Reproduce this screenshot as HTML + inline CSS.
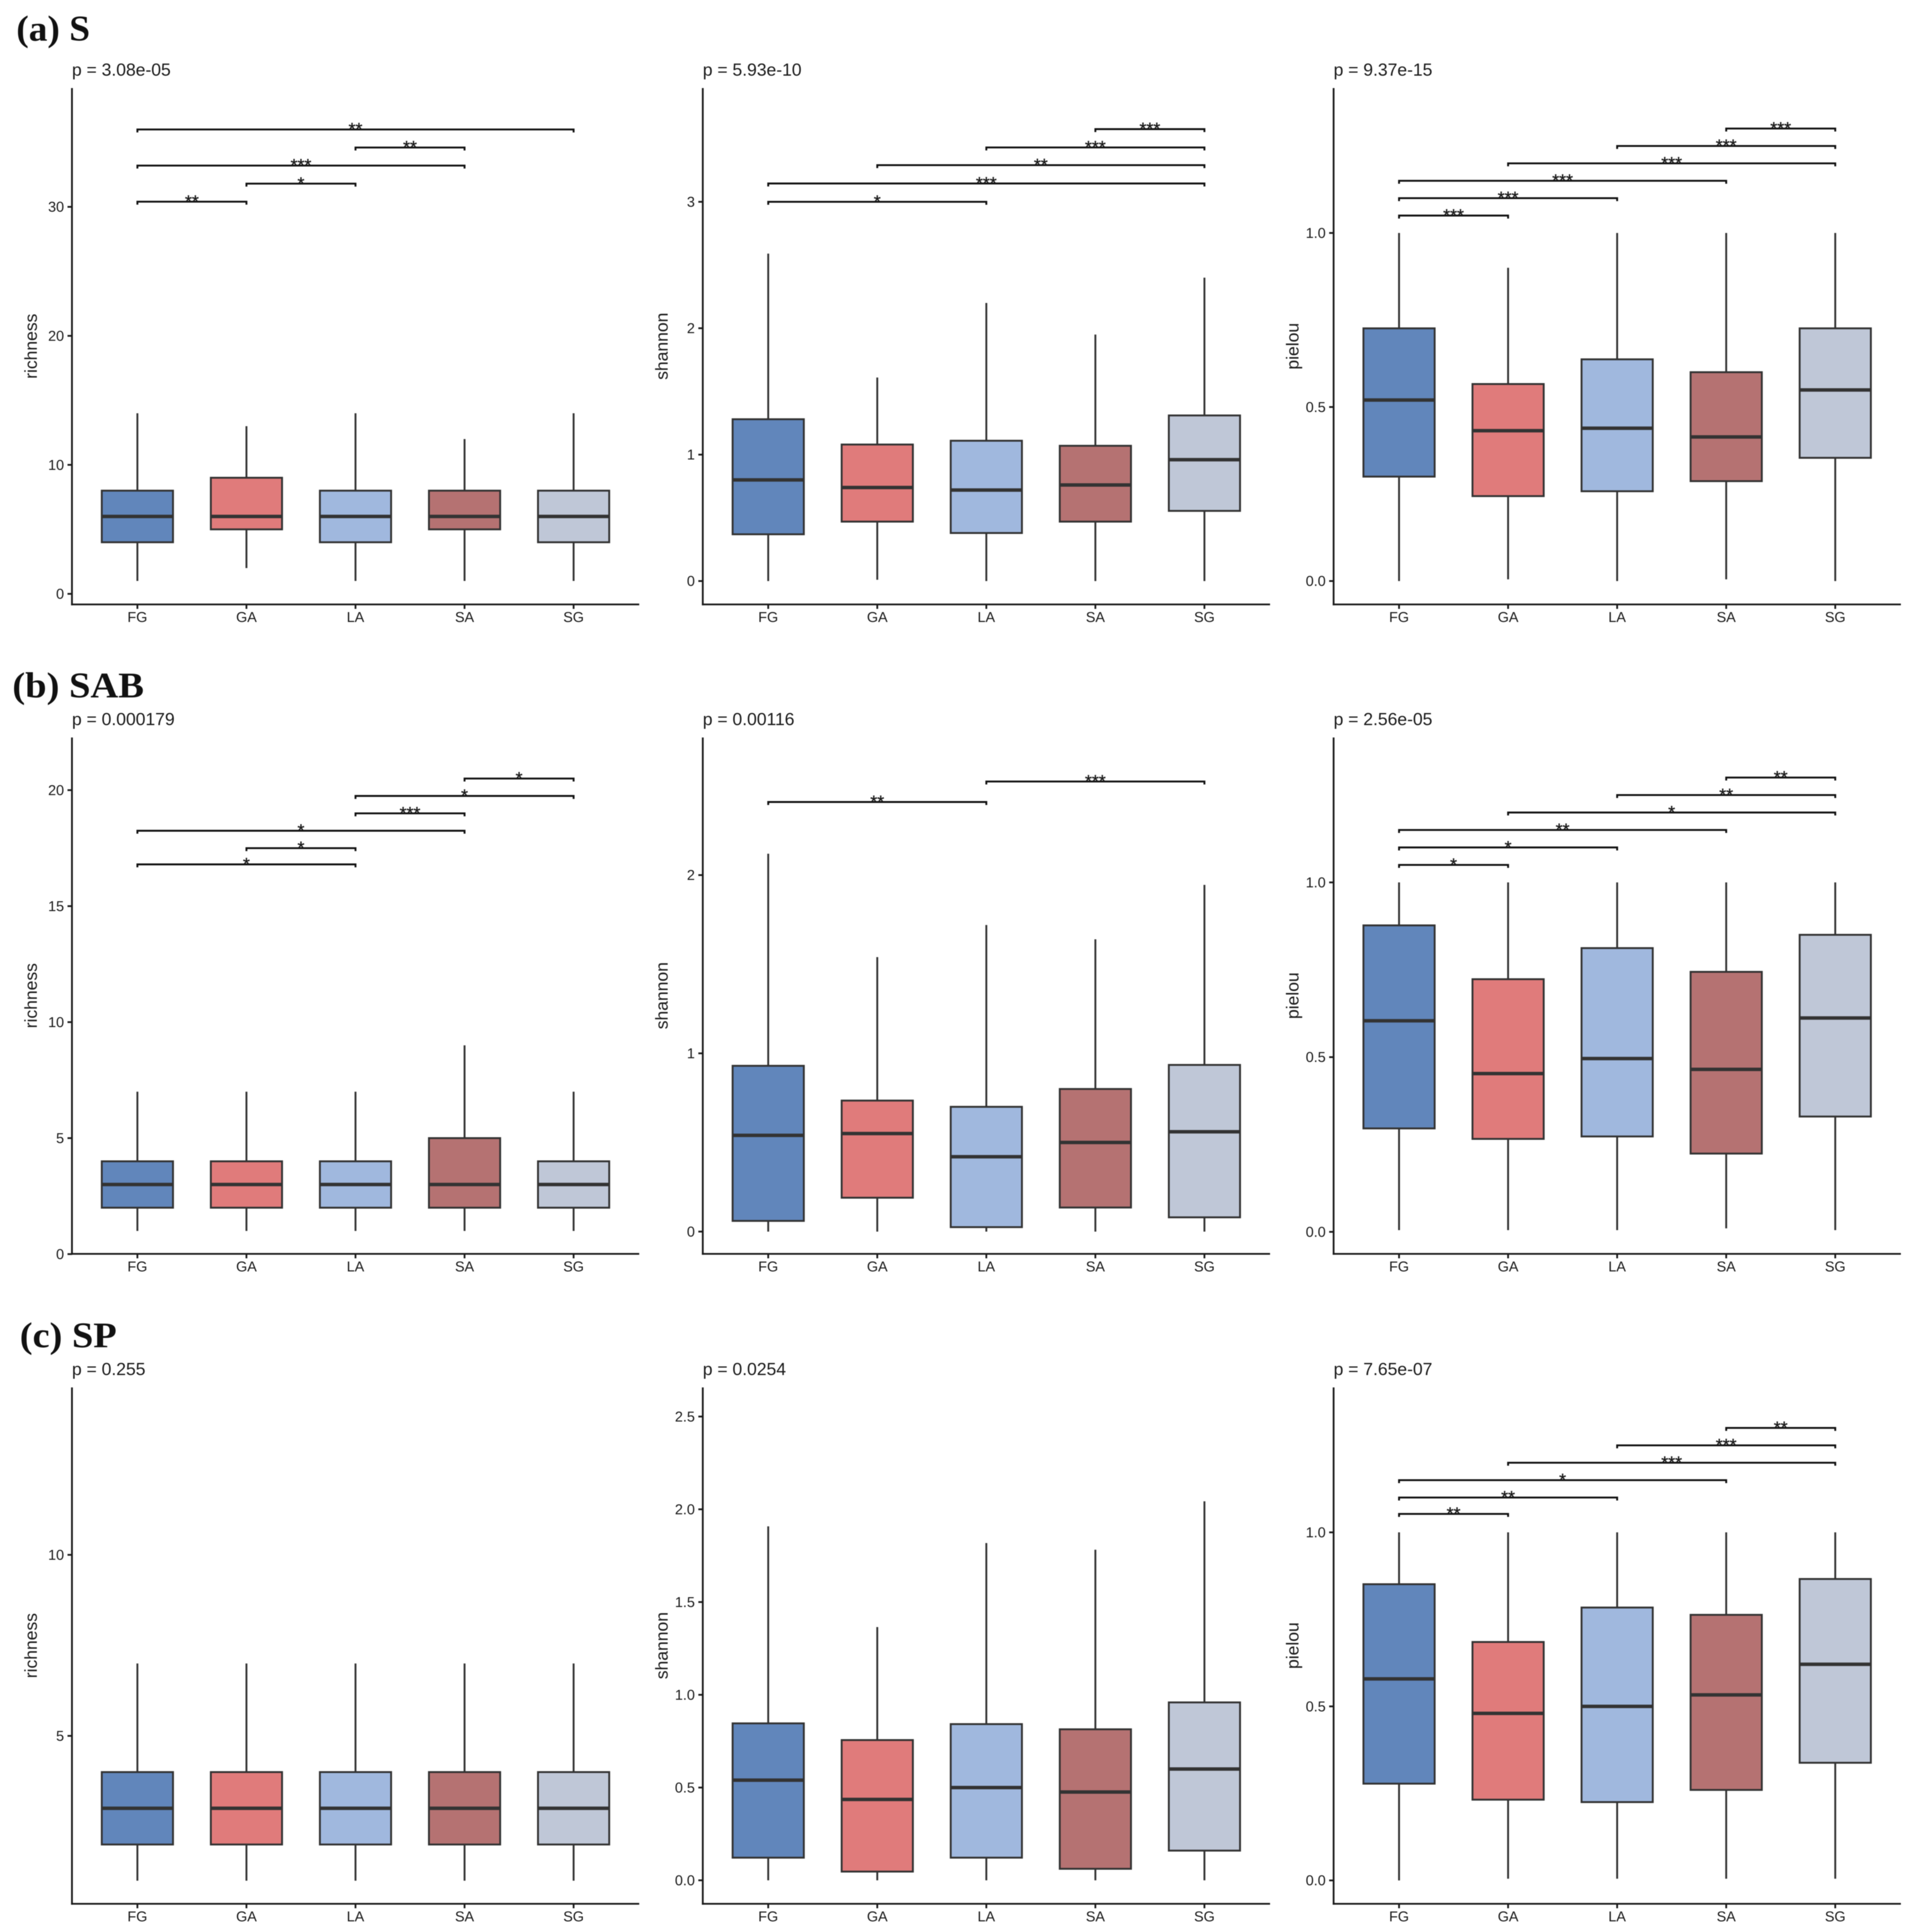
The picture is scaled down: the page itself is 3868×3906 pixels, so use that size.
<!DOCTYPE html>
<html lang="en">
<head>
<meta charset="utf-8">
<title>Alpha diversity boxplots</title>
<style>
html,body{margin:0;padding:0;background:#fff;width:3868px;height:3906px;overflow:hidden}
svg{display:block;filter:blur(0.7px)}
text{font-family:"Liberation Sans",sans-serif;fill:#1c1c1c}
.row-title{font-family:"Liberation Serif",serif;font-weight:bold;font-size:73px;fill:#111}
</style>
</head>
<body>
<svg id="figure" xmlns="http://www.w3.org/2000/svg" width="3868" height="3906" viewBox="0 0 3868 3906">
<rect x="0" y="0" width="3868" height="3906" fill="#ffffff"/>
<text class="row-title" x="33" y="82" textLength="149" lengthAdjust="spacingAndGlyphs">(a) S</text>
<text class="row-title" x="25" y="1410" textLength="266" lengthAdjust="spacingAndGlyphs">(b) SAB</text>
<text class="row-title" x="40" y="2724" textLength="196" lengthAdjust="spacingAndGlyphs">(c) SP</text>
</svg>
<script>
const categories = ['FG','GA','LA','SA','SG'];
const fillColors = ['#6186bb','#e07b7b','#a0b8de','#b57272','#bfc7d7'];

// (a) S — richness
const sRichnessP = 'p = 3.08e-05';
const sRichnessDomain = [-0.82, 39.21];
const sRichnessTicks = [0,10,20,30];
const sRichnessLow = [1,2,1,1,1];
const sRichnessQ1 = [4,5,4,5,4];
const sRichnessMedian = [6,6,6,6,6];
const sRichnessQ3 = [8,9,8,8,8];
const sRichnessHigh = [14,13,14,12,14];
const sRichnessBrFrom = [0,1,0,2,0];
const sRichnessBrTo = [1,2,3,3,4];
const sRichnessBrY = [30.4,31.8,33.2,34.6,36.0];
const sRichnessBrLabel = ['**','*','***','**','**'];

// (a) S — shannon
const sShannonP = 'p = 5.93e-10';
const sShannonDomain = [-0.185, 3.9];
const sShannonTicks = [0,1,2,3];
const sShannonLow = [0,0.01,0,0,0];
const sShannonQ1 = [0.37,0.47,0.38,0.47,0.555];
const sShannonMedian = [0.80,0.74,0.72,0.76,0.96];
const sShannonQ3 = [1.28,1.08,1.11,1.07,1.31];
const sShannonHigh = [2.59,1.61,2.2,1.95,2.4];
const sShannonBrFrom = [0,0,1,2,3];
const sShannonBrTo = [2,4,4,4,4];
const sShannonBrY = [3.0,3.145,3.29,3.43,3.575];
const sShannonBrLabel = ['*','***','**','***','***'];

// (a) S — pielou
const sPielouP = 'p = 9.37e-15';
const sPielouDomain = [-0.0672, 1.4164];
const sPielouTicks = [0,0.5,1];
const sPielouLow = [0,0.005,0,0.005,0];
const sPielouQ1 = [0.30,0.244,0.258,0.287,0.354];
const sPielouMedian = [0.52,0.432,0.439,0.414,0.549];
const sPielouQ3 = [0.726,0.566,0.637,0.60,0.726];
const sPielouHigh = [1,0.90,1,1,1];
const sPielouBrFrom = [0,0,0,1,2,3];
const sPielouBrTo = [1,2,3,4,4,4];
const sPielouBrY = [1.05,1.10,1.15,1.20,1.25,1.30];
const sPielouBrLabel = ['***','***','***','***','***','***'];

// (b) SAB — richness
const sabRichnessP = 'p = 0.000179';
const sabRichnessDomain = [0.01, 22.27];
const sabRichnessTicks = [0,5,10,15,20];
const sabRichnessLow = [1,1,1,1,1];
const sabRichnessQ1 = [2,2,2,2,2];
const sabRichnessMedian = [3,3,3,3,3];
const sabRichnessQ3 = [4,4,4,5,4];
const sabRichnessHigh = [7,7,7,9,7];
const sabRichnessBrFrom = [0,1,0,2,2,3];
const sabRichnessBrTo = [2,2,3,3,4,4];
const sabRichnessBrY = [16.8,17.5,18.25,19.0,19.75,20.5];
const sabRichnessBrLabel = ['*','*','*','***','*','*'];

// (b) SAB — shannon
const sabShannonP = 'p = 0.00116';
const sabShannonDomain = [-0.125, 2.772];
const sabShannonTicks = [0,1,2];
const sabShannonLow = [0,0,0,0,0];
const sabShannonQ1 = [0.06,0.19,0.025,0.135,0.08];
const sabShannonMedian = [0.54,0.55,0.42,0.50,0.56];
const sabShannonQ3 = [0.93,0.735,0.70,0.80,0.935];
const sabShannonHigh = [2.12,1.54,1.72,1.64,1.945];
const sabShannonBrFrom = [0,2];
const sabShannonBrTo = [2,4];
const sabShannonBrY = [2.41,2.525];
const sabShannonBrLabel = ['**','***'];

// (b) SAB — pielou
const sabPielouP = 'p = 2.56e-05';
const sabPielouDomain = [-0.063, 1.4147];
const sabPielouTicks = [0,0.5,1];
const sabPielouLow = [0.005,0.005,0.005,0.01,0.005];
const sabPielouQ1 = [0.296,0.266,0.273,0.224,0.33];
const sabPielouMedian = [0.604,0.453,0.496,0.465,0.612];
const sabPielouQ3 = [0.877,0.723,0.812,0.744,0.85];
const sabPielouHigh = [1,1,1,1,1];
const sabPielouBrFrom = [0,0,0,1,2,3];
const sabPielouBrTo = [1,2,3,4,4,4];
const sabPielouBrY = [1.05,1.10,1.15,1.20,1.25,1.30];
const sabPielouBrLabel = ['*','*','**','*','**','**'];

// (c) SP — richness
const spRichnessP = 'p = 0.255';
const spRichnessDomain = [0.362, 14.624];
const spRichnessTicks = [5,10];
const spRichnessLow = [1,1,1,1,1];
const spRichnessQ1 = [2,2,2,2,2];
const spRichnessMedian = [3,3,3,3,3];
const spRichnessQ3 = [4,4,4,4,4];
const spRichnessHigh = [7,7,7,7,7];
const spRichnessBrFrom = [];
const spRichnessBrTo = [];
const spRichnessBrY = [];
const spRichnessBrLabel = [];

// (c) SP — shannon
const spShannonP = 'p = 0.0254';
const spShannonDomain = [-0.1267, 2.657];
const spShannonTicks = [0,0.5,1,1.5,2,2.5];
const spShannonLow = [0,0,0,0,0];
const spShannonQ1 = [0.122,0.047,0.122,0.062,0.16];
const spShannonMedian = [0.54,0.436,0.50,0.476,0.60];
const spShannonQ3 = [0.846,0.756,0.842,0.814,0.959];
const spShannonHigh = [1.908,1.365,1.818,1.782,2.043];
const spShannonBrFrom = [];
const spShannonBrTo = [];
const spShannonBrY = [];
const spShannonBrLabel = [];

// (c) SP — pielou
const spPielouP = 'p = 7.65e-07';
const spPielouDomain = [-0.0672, 1.4164];
const spPielouTicks = [0,0.5,1];
const spPielouLow = [0,0.005,0.005,0.005,0.005];
const spPielouQ1 = [0.278,0.232,0.225,0.26,0.338];
const spPielouMedian = [0.579,0.48,0.50,0.533,0.621];
const spPielouQ3 = [0.851,0.685,0.784,0.763,0.866];
const spPielouHigh = [1,1,1,1,1];
const spPielouBrFrom = [0,0,0,1,2,3];
const spPielouBrTo = [1,2,3,4,4,4];
const spPielouBrY = [1.053,1.10,1.15,1.20,1.25,1.30];
const spPielouBrLabel = ['**','**','*','***','***','**'];

const panelList = [
  ['s-richness',0,0,'richness',1,sRichnessP,sRichnessDomain,sRichnessTicks,sRichnessLow,sRichnessQ1,sRichnessMedian,sRichnessQ3,sRichnessHigh,sRichnessBrFrom,sRichnessBrTo,sRichnessBrY,sRichnessBrLabel],
  ['s-shannon',0,1,'shannon',1,sShannonP,sShannonDomain,sShannonTicks,sShannonLow,sShannonQ1,sShannonMedian,sShannonQ3,sShannonHigh,sShannonBrFrom,sShannonBrTo,sShannonBrY,sShannonBrLabel],
  ['s-pielou',0,2,'pielou',10,sPielouP,sPielouDomain,sPielouTicks,sPielouLow,sPielouQ1,sPielouMedian,sPielouQ3,sPielouHigh,sPielouBrFrom,sPielouBrTo,sPielouBrY,sPielouBrLabel],
  ['sab-richness',1,0,'richness',1,sabRichnessP,sabRichnessDomain,sabRichnessTicks,sabRichnessLow,sabRichnessQ1,sabRichnessMedian,sabRichnessQ3,sabRichnessHigh,sabRichnessBrFrom,sabRichnessBrTo,sabRichnessBrY,sabRichnessBrLabel],
  ['sab-shannon',1,1,'shannon',1,sabShannonP,sabShannonDomain,sabShannonTicks,sabShannonLow,sabShannonQ1,sabShannonMedian,sabShannonQ3,sabShannonHigh,sabShannonBrFrom,sabShannonBrTo,sabShannonBrY,sabShannonBrLabel],
  ['sab-pielou',1,2,'pielou',10,sabPielouP,sabPielouDomain,sabPielouTicks,sabPielouLow,sabPielouQ1,sabPielouMedian,sabPielouQ3,sabPielouHigh,sabPielouBrFrom,sabPielouBrTo,sabPielouBrY,sabPielouBrLabel],
  ['sp-richness',2,0,'richness',1,spRichnessP,spRichnessDomain,spRichnessTicks,spRichnessLow,spRichnessQ1,spRichnessMedian,spRichnessQ3,spRichnessHigh,spRichnessBrFrom,spRichnessBrTo,spRichnessBrY,spRichnessBrLabel],
  ['sp-shannon',2,1,'shannon',10,spShannonP,spShannonDomain,spShannonTicks,spShannonLow,spShannonQ1,spShannonMedian,spShannonQ3,spShannonHigh,spShannonBrFrom,spShannonBrTo,spShannonBrY,spShannonBrLabel],
  ['sp-pielou',2,2,'pielou',10,spPielouP,spPielouDomain,spPielouTicks,spPielouLow,spPielouQ1,spPielouMedian,spPielouQ3,spPielouHigh,spPielouBrFrom,spPielouBrTo,spPielouBrY,spPielouBrLabel]
];

const NS = 'http://www.w3.org/2000/svg';
const svg = document.getElementById('figure');
const COL_LEFT = [145.5, 1421, 2696.5];
const ROW_TOP = [178, 1491, 2805];
const PANEL_H = 1044, PANEL_W = 1147, BAND = 220.5, BOX_HALF = 72;

function make(parent, tag, attrs, txt) {
  const el = document.createElementNS(NS, tag);
  for (const k in attrs) el.setAttribute(k, attrs[k]);
  if (txt !== undefined) el.textContent = txt;
  parent.appendChild(el);
  return el;
}

panelList.forEach(function (p) {
  const [id, row, col, yTitle, decimals, pText, domain, ticks, low, q1, med, q3, high, brFrom, brTo, brY, brLabel] = p;
  const left = COL_LEFT[col], top = ROW_TOP[row], bottom = top + PANEL_H, right = left + PANEL_W;
  const xScale = function (i) { return left + (i + 0.6) * BAND; };
  const yScale = function (v) { return bottom - (v - domain[0]) / (domain[1] - domain[0]) * PANEL_H; };

  const g = make(svg, 'g', {});
  
  

  const pLabel = make(g, 'text', {x: left, y: top - 25, 'font-size': 35.4}, pText);
  
  

  const titleX = left - 71, titleY = top + PANEL_H / 2;
  const yt = make(g, 'text', {x: titleX, y: titleY, 'font-size': 35.4, 'text-anchor': 'middle', transform: 'rotate(-90 ' + titleX + ' ' + titleY + ')'}, yTitle);
  
  

  const yAxis = make(g, 'line', {x1: left, x2: left, y1: top, y2: bottom + 1.8, stroke: '#1a1a1a', 'stroke-width': 3.6});
  
  

  const xAxis = make(g, 'line', {x1: left - 1.8, x2: right, y1: bottom, y2: bottom, stroke: '#1a1a1a', 'stroke-width': 3.6});
  
  

  ticks.forEach(function (t) {
    const ty = yScale(t);
    const tick = make(g, 'line', {x1: left - 9, x2: left, y1: ty, y2: ty, stroke: '#1a1a1a', 'stroke-width': 3.6});
    
    
    const label = decimals === 10 ? t.toFixed(1) : String(t);
    const tl = make(g, 'text', {x: left - 16, y: ty + 10, 'font-size': 29, 'text-anchor': 'end'}, label);
    
    
  });

  categories.forEach(function (cat, i) {
    const cx = xScale(i);
    const tick = make(g, 'line', {x1: cx, x2: cx, y1: bottom, y2: bottom + 9, stroke: '#1a1a1a', 'stroke-width': 3.6});
    
    
    const tl = make(g, 'text', {x: cx, y: bottom + 35.5, 'font-size': 29, 'text-anchor': 'middle'}, cat);
    
    

    const whisker = make(g, 'line', {x1: cx, x2: cx, y1: yScale(high[i]), y2: yScale(low[i]), stroke: '#333333', 'stroke-width': 3.8});
    
    

    const box = make(g, 'rect', {x: cx - BOX_HALF, y: yScale(q3[i]), width: BOX_HALF * 2, height: yScale(q1[i]) - yScale(q3[i]), fill: fillColors[i], stroke: '#333333', 'stroke-width': 3.8});
    
    

    const medLine = make(g, 'line', {x1: cx - BOX_HALF, x2: cx + BOX_HALF, y1: yScale(med[i]), y2: yScale(med[i]), stroke: '#333333', 'stroke-width': 7});
    
    
  });

  brFrom.forEach(function (from, i) {
    const x1 = xScale(from), x2 = xScale(brTo[i]), by = yScale(brY[i]);
    const br = make(g, 'path', {d: 'M' + x1 + ' ' + (by + 6) + 'V' + by + 'H' + x2 + 'V' + (by + 6), fill: 'none', stroke: '#111111', 'stroke-width': 3.8});
    
    
    const star = make(g, 'text', {x: (x1 + x2) / 2, y: by + 12, 'font-size': 36, 'text-anchor': 'middle', stroke: '#1c1c1c', 'stroke-width': 0.6}, brLabel[i]);
    
    
  });
});
</script>
</body>
</html>
